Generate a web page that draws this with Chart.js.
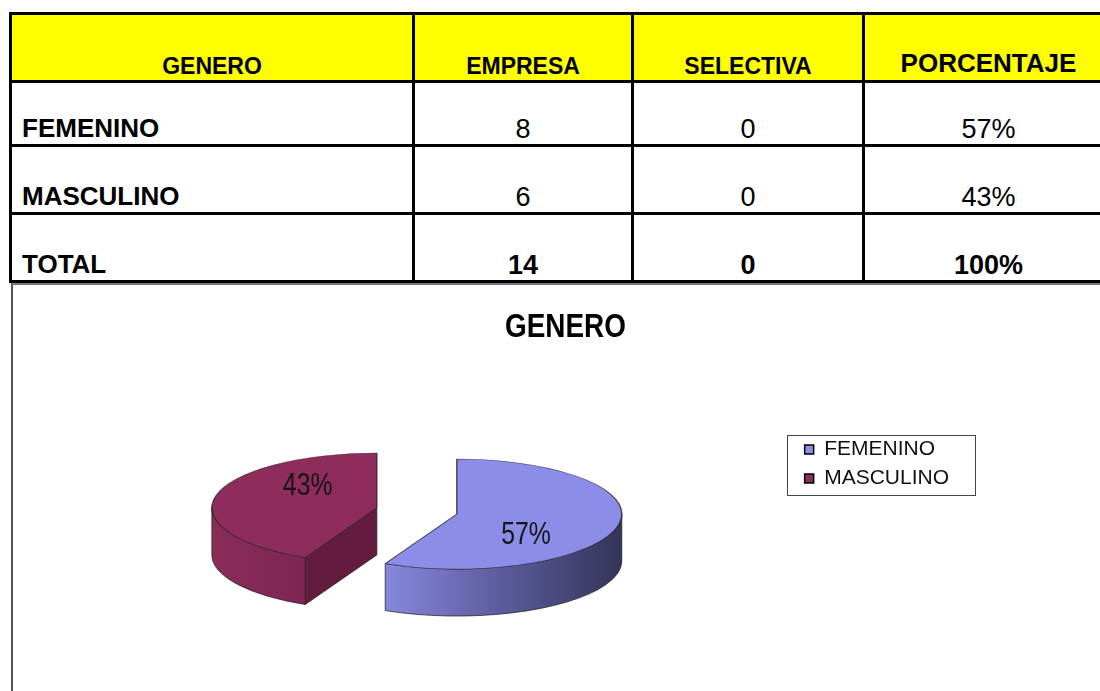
<!DOCTYPE html>
<html>
<head>
<meta charset="utf-8">
<script src="https://cdn.jsdelivr.net/npm/chart.js@4.4.1/dist/chart.umd.min.js"></script>
<style>
  html, body { margin:0; padding:0; background:#fff; width:1100px; height:691px; overflow:hidden; position:relative; font-family:'Liberation Sans', Arial, sans-serif; }
  #tabla { position:absolute; left:9px; top:12px; display:grid; grid-template-columns:403px 219px 231px 250px; grid-template-rows:68px 64px 68px 68px; border-top:3px solid #000; border-left:3px solid #000; }
  #tabla div { box-sizing:border-box; border-right:3px solid #000; border-bottom:3px solid #000; display:flex; align-items:flex-end; justify-content:center; line-height:1; color:#000; white-space:nowrap; }
  #tabla .head { background:#ffff00; font-weight:bold; font-size:23px; padding-bottom:2px; }
  #tabla .head.big { font-size:26px; padding-bottom:4px; }
  #tabla .cat { justify-content:flex-start; padding-left:10px; font-weight:bold; font-size:26px; padding-bottom:3px; }
  #tabla .num { font-size:27px; padding-bottom:1px; }
  #tabla .bold { font-weight:bold; }
  #grafico { position:absolute; left:11px; top:283px; width:1100px; height:406px; border-left:2px solid #555; border-top:2px solid #777; }
  #grafico canvas { position:absolute; left:0; top:0; }
  #titulo { position:absolute; left:0; width:1131px; top:308px; text-align:center; font:bold 34px 'Liberation Sans', Arial, sans-serif; line-height:1; color:#000; transform:scaleX(0.82); transform-origin:565.5px 0; }
</style>
</head>
<body>
<div id="tabla"></div>
<div id="grafico"><canvas id="torta" width="1087" height="406"></canvas></div>
<div id="titulo">GENERO</div>
<script>
'use strict';
// datos
const encabezados = ['GENERO', 'EMPRESA', 'SELECTIVA', 'PORCENTAJE'];
const generos = ['FEMENINO', 'MASCULINO'];
const empresa = [8, 6];
const selectiva = [0, 0];
const tituloGrafico = 'GENERO';

const topColors = ['#8c8ce9', '#8e2d5b'];
const wallColors = [['#8787df', '#5b5b9b', '#34345a'], ['#8b2c59', '#7d2651']];
const faceColors = ['#50508a', '#631c3e'];

const total = empresa.reduce((a, b) => a + b, 0);
const totalSel = selectiva.reduce((a, b) => a + b, 0);
const pct = v => Math.round(v / total * 100) + '%';

// tabla
const tabla = document.getElementById('tabla');
function celda(txt, cls) {
    const d = document.createElement('div');
    d.className = cls;
    d.textContent = txt;
    tabla.appendChild(d);
}
encabezados.forEach((h, i) => celda(h, i === 3 ? 'head big' : 'head'));
generos.forEach((g, i) => {
    celda(g, 'cat');
    celda(empresa[i], 'num');
    celda(selectiva[i], 'num');
    celda(pct(empresa[i]), 'num');
});
celda('TOTAL', 'cat');
celda(total, 'num bold');
celda(totalSel, 'num bold');
celda(pct(total), 'num bold');
document.getElementById('titulo').textContent = tituloGrafico;

// grafico 3D
const TILT = 1 / 3, DEPTH = 47, EXPLODE = 41;
const EDGE = 'rgba(35,35,35,0.75)';

function frontRanges(a0, a1) {
    const out = [];
    for (let n = -1; n <= 1; n++) {
        const s = Math.max(a0, n * 2 * Math.PI), e = Math.min(a1, n * 2 * Math.PI + Math.PI);
        if (e > s) out.push([s, e]);
    }
    return out;
}

function centre(arc) {
    const mid = (arc.startAngle + arc.endAngle) / 2;
    return { x: arc.x + Math.cos(mid) * EXPLODE, y: arc.y + Math.sin(mid) * EXPLODE * TILT, mid: mid };
}

const pie3d = {
    id: 'pie3d',
    beforeDatasetDraw(chart, args) {
        const ctx = chart.ctx;
        const arcs = args.meta.data;
        ctx.save();
        ctx.lineWidth = 1;
        ctx.strokeStyle = EDGE;
        arcs.forEach((arc, i) => {
            const c = centre(arc), r = arc.outerRadius, ry = r * TILT;
            // caras de corte
            [[arc.startAngle, -1], [arc.endAngle, 1]].forEach(([a, side]) => {
                if (side * Math.cos(a) > 0.01) {
                    const ex = c.x + r * Math.cos(a), ey = c.y + ry * Math.sin(a);
                    ctx.beginPath();
                    ctx.moveTo(c.x, c.y);
                    ctx.lineTo(ex, ey);
                    ctx.lineTo(ex, ey + DEPTH);
                    ctx.lineTo(c.x, c.y + DEPTH);
                    ctx.closePath();
                    ctx.fillStyle = faceColors[i];
                    ctx.fill();
                    ctx.stroke();
                }
            });
            // pared exterior
            frontRanges(arc.startAngle, arc.endAngle).forEach(([s, e]) => {
                const xl = c.x + r * Math.cos(e), xr = c.x + r * Math.cos(s);
                const grad = ctx.createLinearGradient(xl, 0, xr, 0);
                const cols = wallColors[i];
                cols.forEach((col, k) => grad.addColorStop(k / (cols.length - 1), col));
                ctx.beginPath();
                ctx.ellipse(c.x, c.y, r, ry, 0, s, e);
                ctx.lineTo(xl, c.y + ry * Math.sin(e) + DEPTH);
                ctx.ellipse(c.x, c.y + DEPTH, r, ry, 0, e, s, true);
                ctx.closePath();
                ctx.fillStyle = grad;
                ctx.fill();
                ctx.stroke();
            });
        });
        ctx.restore();
        // caras superiores, dibujadas por Chart.js
        arcs.forEach(arc => {
            const c = centre(arc);
            ctx.save();
            ctx.translate(c.x, c.y);
            ctx.scale(1, TILT);
            ctx.translate(-arc.x, -arc.y);
            arc.draw(ctx);
            ctx.restore();
        });
        // etiquetas (letra estrecha)
        const data = chart.data.datasets[args.index].data;
        const sum = data.reduce((a, b) => a + b, 0);
        arcs.forEach((arc, i) => {
            const c = centre(arc), r = arc.outerRadius;
            const lx = c.x + Math.cos(c.mid) * r * 0.43;
            const ly = c.y + Math.sin(c.mid) * r * TILT * 0.43 + Math.sign(Math.sin(c.mid)) * DEPTH * 0.35;
            ctx.save();
            ctx.translate(lx, ly);
            ctx.scale(0.8, 1);
            ctx.font = '31px "Liberation Sans", Arial, sans-serif';
            ctx.fillStyle = '#151515';
            ctx.textAlign = 'center';
            ctx.textBaseline = 'middle';
            ctx.fillText(Math.round(data[i] / sum * 100) + '%', 0, 0);
            ctx.restore();
        });
        return false;
    },
};

const legendBorder = {
    id: 'legendBorder',
    afterDraw(chart) {
        const hb = chart.legend.legendHitBoxes;
        if (!hb || !hb.length) return;
        const left = Math.min(...hb.map(b => b.left)) - 18;
        const right = Math.max(...hb.map(b => b.left + b.width)) + 26;
        const top = Math.min(...hb.map(b => b.top)) - 4;
        const bottom = Math.max(...hb.map(b => b.top + b.height)) + 6;
        const ctx = chart.ctx;
        ctx.save();
        ctx.strokeStyle = '#444';
        ctx.lineWidth = 1;
        ctx.strokeRect(Math.round(left) + 0.5, Math.round(top) + 0.5, Math.round(right - left), Math.round(bottom - top));
        ctx.restore();
    },
};

const chart = new Chart(document.getElementById('torta').getContext('2d'), {
    type: 'pie',
    data: {
        labels: generos,
        datasets: [{
            data: empresa,
            backgroundColor: topColors,
            borderColor: EDGE,
            borderWidth: 1.5,
            radius: 165,
        }],
    },
    options: {
        responsive: false,
        animation: false,
        events: [],
        radius: 165,
        layout: { padding: { left: 24, right: 141, top: 146, bottom: 100 } },
        plugins: {
            title: { display: false },
            tooltip: { enabled: false },
            legend: {
                position: 'right',
                align: 'start',
                fullSize: false,
                labels: {
                    boxWidth: 9,
                    boxHeight: 9,
                    padding: 8,
                    color: '#111',
                    font: { family: 'Liberation Sans', size: 21 },
                    generateLabels(c) {
                        const items = Chart.overrides.doughnut.plugins.legend.labels.generateLabels(c);
                        items.forEach(it => { it.strokeStyle = '#000'; it.lineWidth = 1.5; });
                        return items;
                    },
                },
            },
        },
    },
    plugins: [pie3d, legendBorder],
});
</script>
</body>
</html>
